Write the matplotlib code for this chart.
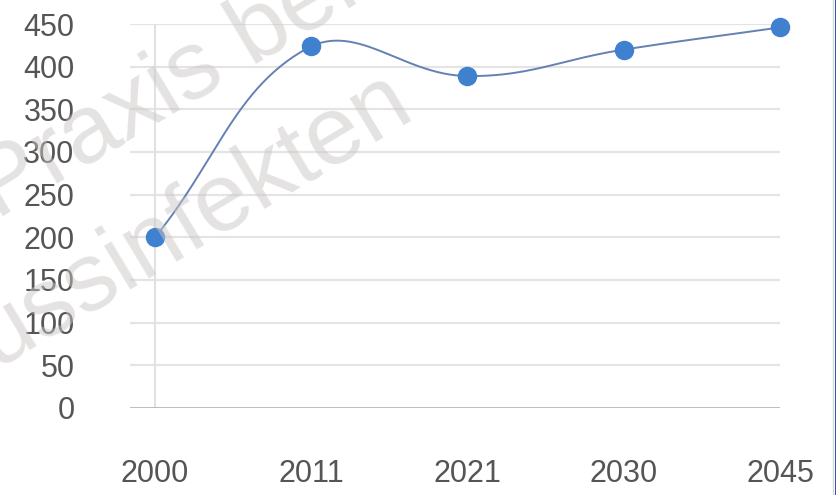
import numpy as np
import matplotlib
matplotlib.use("Agg")
import matplotlib.pyplot as plt
from matplotlib.lines import Line2D

plt.rcParams['font.family'] = ['Liberation Sans', 'DejaVu Sans']

years = ["2000", "2011", "2021", "2030", "2045"]
values = [200, 424, 389, 420, 446]
yticks = [0, 50, 100, 150, 200, 250, 300, 350, 400, 450]

line_col = "#6581b3"
dot_col = "#3f80cf"
text_col = "#555555"

fig = plt.figure(figsize=(8.37, 4.95), dpi=100)
fig.patch.set_facecolor("white")
ax = fig.add_axes([0.1553, 0.1758, 0.7766, 0.7757])

x = np.arange(len(years))
ax.set_xlim(-0.16, 4.0)
ax.set_ylim(0, 450)

# horizontal grid, darker base line at zero
for v in yticks[1:]:
    ax.axhline(v, color="#e4e4e4", lw=1.6, zorder=1)
ax.axhline(0, color="#a9a9a9", lw=1.8, zorder=2)
ax.axvline(0, color="#e2e2e2", lw=1.5, zorder=1)


def spline_path(xs, ys, tension=0.4, n=60):
    # smooth the line like a cardinal spline, done in screen space
    pts = ax.transData.transform(np.column_stack([xs, ys]))
    m = len(pts)
    prev_cp = pts.copy()
    next_cp = pts.copy()
    for i in range(m):
        p = pts[max(i - 1, 0)]
        c = pts[i]
        nx = pts[min(i + 1, m - 1)]
        d01 = np.hypot(*(c - p))
        d12 = np.hypot(*(nx - c))
        tot = d01 + d12
        if tot == 0:
            continue
        fa = tension * d01 / tot
        fb = tension * d12 / tot
        prev_cp[i] = c - fa * (nx - p)
        next_cp[i] = c + fb * (nx - p)
    bbox = ax.bbox
    next_cp[:, 1] = np.clip(next_cp[:, 1], bbox.y0, bbox.y1)
    prev_cp[:, 1] = np.clip(prev_cp[:, 1], bbox.y0, bbox.y1)
    t = np.linspace(0, 1, n)[:, None]
    segs = []
    for i in range(m - 1):
        a, b, c, d = pts[i], next_cp[i], prev_cp[i + 1], pts[i + 1]
        seg = (1 - t) ** 3 * a + 3 * (1 - t) ** 2 * t * b + 3 * (1 - t) * t ** 2 * c + t ** 3 * d
        segs.append(seg)
    curve = np.vstack(segs)
    return ax.transData.inverted().transform(curve)


curve = spline_path(x, values)
ax.plot(curve[:, 0], curve[:, 1], color=line_col, lw=1.4, zorder=3, clip_on=False)
ax.plot(x, values, "o", ms=13, color=dot_col, zorder=4, clip_on=False)

ax.set_xticks(x)
ax.set_xticklabels(years)
ax.set_yticks(yticks)
ax.tick_params(axis="y", length=0, pad=40, labelsize=22, labelcolor=text_col)
ax.tick_params(axis="x", length=0, pad=37, labelsize=22, labelcolor=text_col)
for s in ax.spines.values():
    s.set_visible(False)
ax.set_facecolor("none")

# watermark
wm = dict(fontsize=70, color="#cbc5c5", alpha=0.5, rotation=31,
          rotation_mode="anchor", ha="left", va="baseline", zorder=10)
fig.text(-0.004, 0.556, "Praxis bei", **wm)
fig.text(-0.006, 0.258, "ussinfekten", **wm)

# frame edge on the right
fig.add_artist(Line2D([0.9955, 0.9955], [0, 1], color="#d8d8d8", lw=1.0))
fig.add_artist(Line2D([0.9985, 0.9985], [0, 1], color="#1d43a8", lw=2.0))

fig.savefig("out.png", dpi=100)
